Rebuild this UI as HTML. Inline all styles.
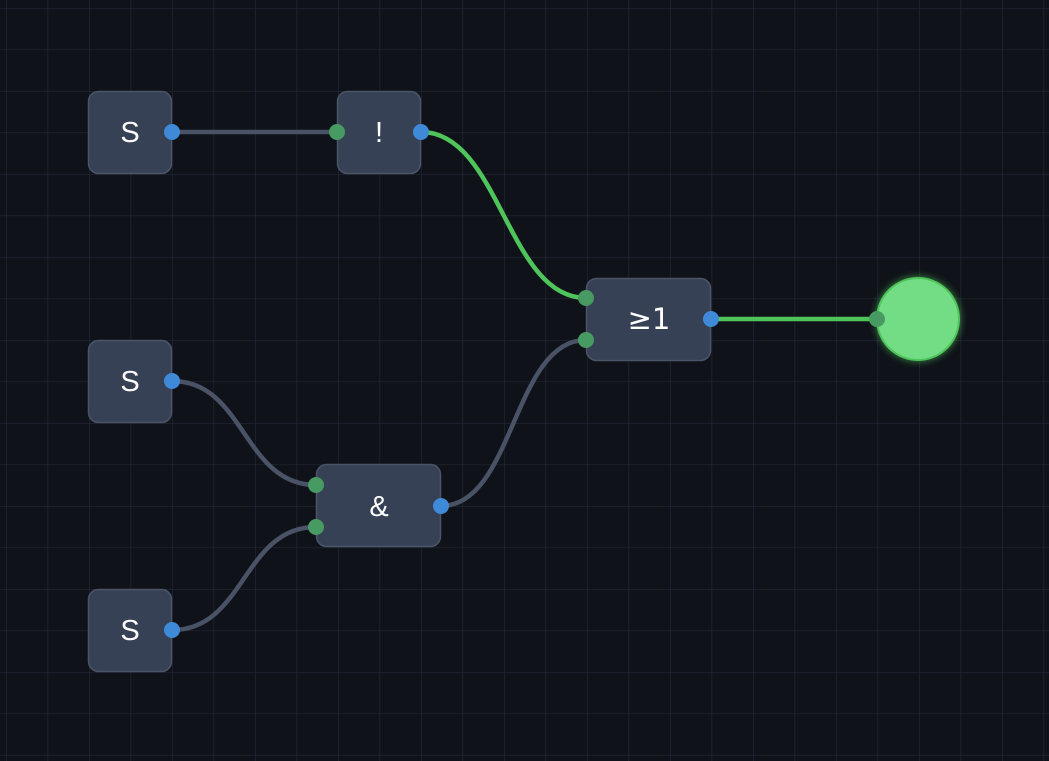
<!DOCTYPE html>
<html><head><meta charset="utf-8"><style>
html,body{margin:0;padding:0;background:#0f1218;}
</style></head><body>
<svg width="1049" height="761" xmlns="http://www.w3.org/2000/svg" style="display:block">
<defs>
<pattern id="g" x="6" y="8" width="41.5" height="41.5" patternUnits="userSpaceOnUse">
<path d="M0 0H41.5M0 0V41.5" stroke="#212838" stroke-width="1.3" fill="none"/>
</pattern>
<filter id="glow" x="-50%" y="-50%" width="200%" height="200%"><feGaussianBlur stdDeviation="4"/></filter>
</defs>
<rect width="1049" height="761" fill="#0f1218"/>
<rect width="1049" height="761" fill="url(#g)"/>
<g fill="none" stroke-width="4.5" stroke-linecap="round">
<path d="M172 132H337" stroke="#4a5266"/>
<path d="M421 132C500 132 507 298 586 298" stroke="#4fc45a"/>
<path d="M711 319H877" stroke="#4fc45a"/>
<path d="M172 381C245 381 243 485 316 485" stroke="#4a5266"/>
<path d="M172 630C245 630 243 527 316 527" stroke="#4a5266"/>
<path d="M441 506C514 506 513 340 586 340" stroke="#4a5266"/>
</g>
<g fill="#374155" stroke="#4b5567" stroke-width="1.5">
<rect x="88.5" y="91.5" width="83" height="82" rx="10"/>
<rect x="337.5" y="91.5" width="83" height="82" rx="10"/>
<rect x="88.5" y="340.5" width="83" height="82" rx="10"/>
<rect x="88.5" y="589.5" width="83" height="82" rx="10"/>
<rect x="316.5" y="464.5" width="124" height="82" rx="10"/>
<rect x="586.5" y="278.5" width="124" height="82" rx="10"/>
</g>
<circle cx="918" cy="319" r="42" fill="#4fc45a" filter="url(#glow)" opacity="0.7"/>
<circle cx="918" cy="319" r="41" fill="#72dd84" stroke="#4fc45a" stroke-width="2"/>
<g font-family="Liberation Sans, DejaVu Sans, sans-serif" font-size="29" fill="#ffffff" text-anchor="middle">
<text x="130" y="142">S</text>
<text x="130" y="391">S</text>
<text x="130" y="640">S</text>
<text x="379" y="142">!</text>
<text x="379" y="516">&amp;</text>
<text x="649" y="329" font-family="DejaVu Sans, sans-serif" font-size="29">≥1</text>
</g>
<g fill="#3f8ad8">
<circle cx="172" cy="132" r="8"/>
<circle cx="421" cy="132" r="8"/>
<circle cx="172" cy="381" r="8"/>
<circle cx="172" cy="630" r="8"/>
<circle cx="441" cy="506" r="8"/>
<circle cx="711" cy="319" r="8"/>
</g>
<g fill="#489a63">
<circle cx="337" cy="132" r="8"/>
<circle cx="586" cy="298" r="8"/>
<circle cx="586" cy="340" r="8"/>
<circle cx="316" cy="485" r="8"/>
<circle cx="316" cy="527" r="8"/>
<circle cx="877" cy="319" r="8"/>
</g>
</svg>
</body></html>
